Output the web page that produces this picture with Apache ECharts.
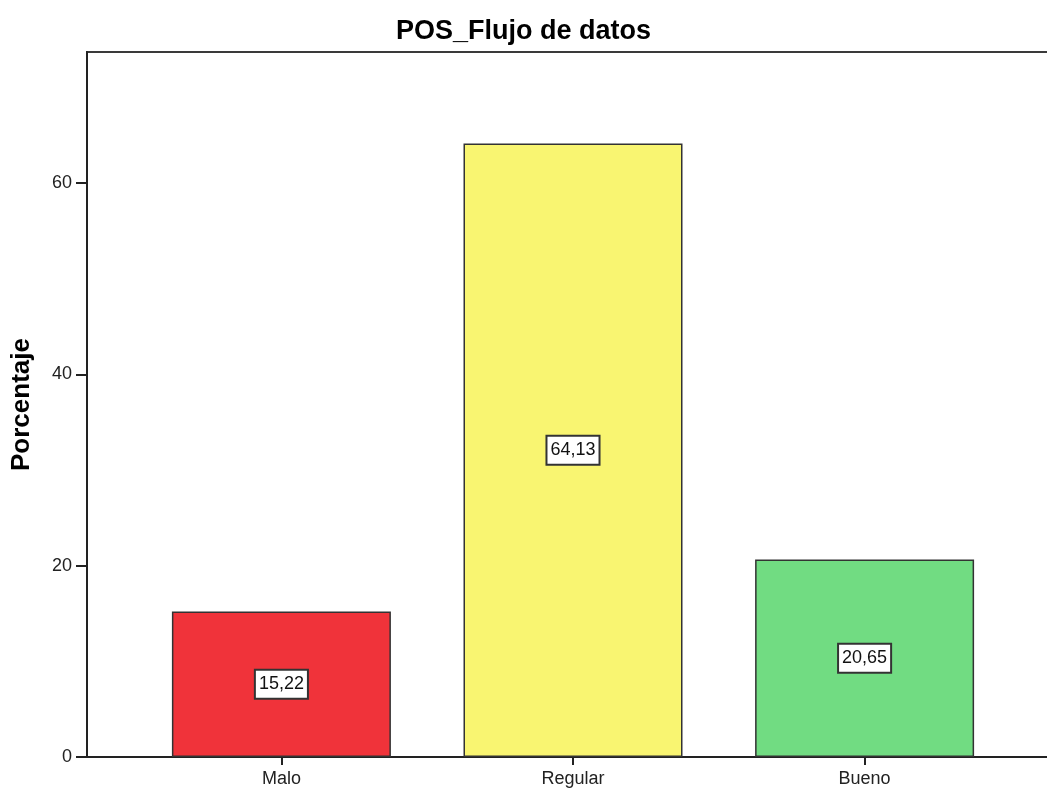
<!DOCTYPE html>
<html>
<head>
<meta charset="utf-8">
<script src="https://cdn.jsdelivr.net/npm/echarts@6/dist/echarts.min.js"></script>
<style>
  html, body { margin: 0; padding: 0; background: #fff; }
  #chart { width: 1047px; height: 792px; }
</style>
</head>
<body>
<div id="chart"></div>
<script>
// Categories and percentages
const categories = ['Malo', 'Regular', 'Bueno'];
const percentages = [15.22, 64.13, 20.65];
const barColors = ['#F0333A', '#F9F571', '#71DC82'];
const yTicks = [0, 20, 40, 60];

const fmt = v => v.toFixed(2).replace('.', ',');
const FONT = 'Liberation Sans, Arial, sans-serif';

const chart = echarts.init(document.getElementById('chart'), null, { renderer: 'canvas' });

chart.setOption({
  animation: false,
  backgroundColor: '#ffffff',
  title: {
    text: 'POS_Flujo de datos',
    left: 'center',
    top: 13,
    textStyle: {
      fontFamily: FONT,
      fontSize: 27,
      fontWeight: 'bold',
      color: '#000'
    }
  },
  // plot frame continues past the right edge of the page
  grid: {
    left: 87,
    width: 972,
    top: 52,
    bottom: 35,
    outerBoundsMode: 'none',
    show: true,
    borderColor: '#3a3a3a',
    borderWidth: 2,
    backgroundColor: 'transparent'
  },
  xAxis: {
    type: 'value',
    min: -2 / 3,
    max: 8 / 3,
    splitLine: { show: false },
    axisLine: { show: true, onZero: false, lineStyle: { color: '#222', width: 2 } },
    axisTick: {
      show: true,
      customValues: [0, 1, 2],
      length: 8,
      lineStyle: { color: '#222', width: 2 }
    },
    axisLabel: {
      customValues: [0, 1, 2],
      formatter: v => categories[Math.round(v)],
      fontFamily: FONT,
      fontSize: 18,
      color: '#222',
      margin: 13
    }
  },
  yAxis: {
    type: 'value',
    min: 0,
    max: 73.7,
    name: 'Porcentaje',
    nameLocation: 'middle',
    nameGap: 52,
    nameTextStyle: {
      fontFamily: FONT,
      fontSize: 26,
      fontWeight: 'bold',
      color: '#000'
    },
    splitLine: { show: false },
    axisLine: { show: true, onZero: false, lineStyle: { color: '#222', width: 2 } },
    axisTick: {
      show: true,
      customValues: yTicks,
      length: 11,
      lineStyle: { color: '#222', width: 2 }
    },
    axisLabel: {
      customValues: yTicks,
      fontFamily: FONT,
      fontSize: 18,
      color: '#222',
      margin: 15
    }
  },
  series: [{
    type: 'bar',
    barWidth: 219,
    data: percentages.map((v, i) => ({
      value: [i, v],
      itemStyle: { color: barColors[i] }
    })),
    itemStyle: { borderColor: '#333', borderWidth: 1.5 },
    label: {
      show: true,
      position: 'inside',
      formatter: p => fmt(p.value[1]),
      fontFamily: FONT,
      fontSize: 18,
      color: '#111',
      backgroundColor: '#ffffff',
      borderColor: '#333',
      borderWidth: 2,
      padding: [5, 3, 4, 3]
    }
  }]
});
</script>
</body>
</html>
